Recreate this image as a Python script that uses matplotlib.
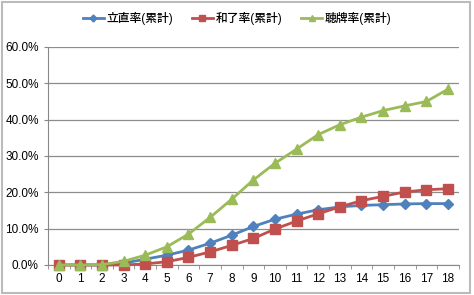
import matplotlib
matplotlib.use("Agg")
import matplotlib.pyplot as plt
from matplotlib.ticker import FuncFormatter, FixedLocator
from matplotlib.patches import Rectangle

plt.rcParams['font.family'] = ['Liberation Sans', 'Noto Sans CJK JP', 'DejaVu Sans']

categories = list(range(19))
series_names = ["立直率(累計)", "和了率(累計)", "聴牌率(累計)"]
riichi = [0.0, 0.0, 0.0, 0.5, 1.6, 2.7, 4.1, 6.0, 8.2, 10.6, 12.6, 14.0, 15.2, 16.0, 16.4, 16.6, 16.8, 16.9, 16.9]
agari = [0.0, 0.0, 0.0, 0.0, 0.3, 0.9, 2.1, 3.6, 5.4, 7.3, 9.9, 12.1, 14.1, 16.0, 17.7, 18.9, 20.1, 20.7, 21.0]
tenpai = [0.0, 0.0, 0.1, 1.0, 2.7, 5.0, 8.5, 13.1, 18.1, 23.4, 28.0, 31.9, 35.9, 38.6, 40.7, 42.5, 43.8, 45.0, 48.4]
y_ticks = [0, 10, 20, 30, 40, 50, 60]

colors = ["#4F81BD", "#C0504D", "#9BBB59"]
markers = ["D", "s", "^"]
msizes = [5, 7, 7]

fig = plt.figure(figsize=(4.74, 2.95), dpi=100)
ax = fig.add_axes([0.101, 0.1017, 0.867, 0.739])

for vals, name, c, m, ms in zip([riichi, agari, tenpai], series_names, colors, markers, msizes):
    ax.plot(categories, vals, color=c, marker=m, markersize=ms, linewidth=2,
            markeredgecolor=c, label=name, clip_on=False, zorder=3)

ax.set_xlim(-0.5, 18.5)
ax.set_ylim(0, 60)
ax.set_yticks(y_ticks)
ax.yaxis.set_major_formatter(FuncFormatter(lambda v, p: f"{v:.1f}%"))
ax.set_xticks(categories)
ax.xaxis.set_minor_locator(FixedLocator([i - 0.5 for i in range(20)]))
ax.tick_params(axis='x', which='major', length=0, labelsize=8.5, pad=6)
ax.tick_params(axis='x', which='minor', length=3, color='#888888')
ax.tick_params(axis='y', length=3, labelsize=8.5, color='#888888')
ax.grid(axis='y', color='#8C8C8C', linewidth=0.9)
ax.set_axisbelow(True)
for s in ['top', 'right']:
    ax.spines[s].set_visible(False)
ax.spines['left'].set_color('#888888')
ax.spines['bottom'].set_color('#888888')

leg = fig.legend(loc='center', bbox_to_anchor=(0.5, 0.938), ncol=3, frameon=False,
                 prop={'size': 8.5, 'weight': 'medium'}, handlelength=1.8, markerscale=0.7,
                 columnspacing=1.6, handletextpad=0.2)

fig.patches.append(Rectangle((0.004, 0.008), 0.988, 0.985, transform=fig.transFigure,
                             fill=False, edgecolor='#BBBBBB', linewidth=1.5))

fig.savefig("out.png", dpi=100)
